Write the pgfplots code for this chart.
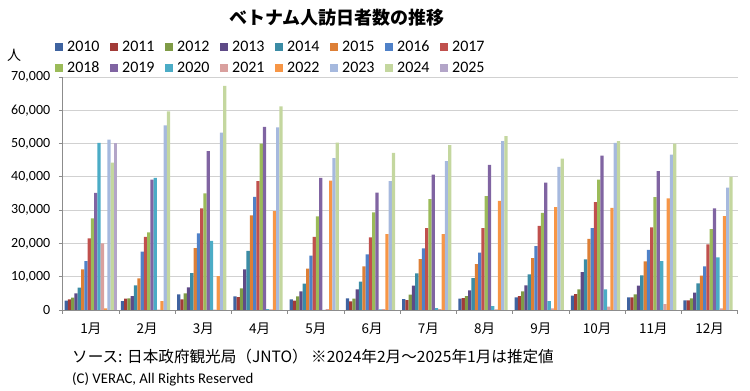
\documentclass[border=0pt]{standalone}
\usepackage{pgfplots}
\pgfplotsset{compat=1.18}
\usepackage{pgfplotstable}
\usepackage{fontspec}
\setmainfont{Carlito}
\newfontfamily\jp{Noto Sans CJK JP}

\definecolor{c2010}{HTML}{3F63A0}
\definecolor{c2011}{HTML}{A23B38}
\definecolor{c2012}{HTML}{7F9B46}
\definecolor{c2013}{HTML}{5E4A87}
\definecolor{c2014}{HTML}{3B8CA5}
\definecolor{c2015}{HTML}{DD7F36}
\definecolor{c2016}{HTML}{4F81C8}
\definecolor{c2017}{HTML}{C0504D}
\definecolor{c2018}{HTML}{9BBB59}
\definecolor{c2019}{HTML}{8064A2}
\definecolor{c2020}{HTML}{4BACC6}
\definecolor{c2021}{HTML}{D9A09E}
\definecolor{c2022}{HTML}{F79646}
\definecolor{c2023}{HTML}{A6B9DE}
\definecolor{c2024}{HTML}{C4D79F}
\definecolor{c2025}{HTML}{B3A5C8}

\pgfplotstableread{
m y2010 y2011 y2012 y2013 y2014 y2015 y2016 y2017 y2018 y2019 y2020 y2021 y2022 y2023 y2024
0  2800 3200 3700  5000  6700 12200 14700 21500 27500 35200 50200 20000   500 51200 44300
1  2700 3400 3500  4200  7400  9500 17500 22000 23300 39200 39700   100  2700 55500 59700
2  4700 3200 5000  6800 11100 18600 23000 30500 35000 47700 20800   100 10200 53300 67300
3  4100 3900 6500 12200 17800 28400 34000 38700 50000 55000   300   200 29700 54900 61200
4  3200 2800 4100  5600  7900 12400 16300 22000 28100 39700     0   300 38900 45600 50300
5  3500 2600 3400  6200  8500 13100 16700 21800 29300 35300   200   300 22800 38700 47200
6  3300 3000 4600  7300 11000 15300 18500 24600 33300 40700   600   300 22800 44700 49500
7  3400 3600 4200  5900  9600 13800 17200 24600 34200 43600  1200   200 32800 50700 52200
8  3800 4200 5600  7400 10700 15600 19200 25300 29200 38300  2700   500 30900 43000 45500
9  4300 4800 6200 11400 15200 21400 24600 32400 39200 46400  6200  1000 30700 50200 50700
10 3800 3800 4700  7300 10400 14600 18100 24800 33900 41700 14700  1800 33500 46700 50000
11 2900 2900 3500  5200  8000 10300 13100 19700 24300 30500 15800   500 28200 36800 40000
}\data

\begin{document}
\begin{tikzpicture}[x=1pt,y=1pt]
\useasboundingbox (0,0) rectangle (750,391);
\begin{axis}[
  at={(62.75pt,81pt)}, anchor=south west,
  scale only axis, width=675pt, height=233pt,
  ybar=0pt, bar width=3.29pt,
  xmin=-0.5, xmax=11.5, ymin=0, ymax=70000,
  axis x line*=bottom, axis y line*=left,
  axis line style={draw=black!45, line width=0.8pt},
  tick align=outside,
  xtick={0,...,11},
  xticklabels={1月,2月,3月,4月,5月,6月,7月,8月,9月,10月,11月,12月},
  xticklabel style={font=\jp\fontsize{13.5}{14}\selectfont, yshift=-5pt},
  major x tick style={draw=none},
  minor xtick={-0.5,0.5,...,11.5},
  minor tick length=4pt,
  minor x tick style={draw=black!45, line width=0.8pt},
  ytick={0,10000,...,70000},
  major tick length=4pt,
  major y tick style={draw=black!45, line width=0.8pt},
  scaled y ticks=false,
  yticklabel style={font=\fontsize{14}{14}\selectfont,
    /pgf/number format/assume math mode=true,
    /pgf/number format/fixed,
    /pgf/number format/1000 sep={,}, xshift=-5pt},
  ymajorgrids, grid style={draw=black!18, line width=0.8pt},
  legend columns=8,
  legend image code/.code={\fill[#1] (0pt,-4pt) rectangle (8pt,4pt);},
  legend style={at={(-0.016,1.165)}, anchor=north west, draw=none, fill=none,
    font=\fontsize{16}{16}\selectfont, column sep=4pt, row sep=8pt,
    nodes={inner sep=0pt, text height=11pt, text depth=2pt}},
  legend cell align=left,
]
\addplot[fill=c2010,draw=none] table[x=m,y=y2010]{\data};
\addplot[fill=c2011,draw=none] table[x=m,y=y2011]{\data};
\addplot[fill=c2012,draw=none] table[x=m,y=y2012]{\data};
\addplot[fill=c2013,draw=none] table[x=m,y=y2013]{\data};
\addplot[fill=c2014,draw=none] table[x=m,y=y2014]{\data};
\addplot[fill=c2015,draw=none] table[x=m,y=y2015]{\data};
\addplot[fill=c2016,draw=none] table[x=m,y=y2016]{\data};
\addplot[fill=c2017,draw=none] table[x=m,y=y2017]{\data};
\addplot[fill=c2018,draw=none] table[x=m,y=y2018]{\data};
\addplot[fill=c2019,draw=none] table[x=m,y=y2019]{\data};
\addplot[fill=c2020,draw=none] table[x=m,y=y2020]{\data};
\addplot[fill=c2021,draw=none] table[x=m,y=y2021]{\data};
\addplot[fill=c2022,draw=none] table[x=m,y=y2022]{\data};
\addplot[fill=c2023,draw=none] table[x=m,y=y2023]{\data};
\addplot[fill=c2024,draw=none] table[x=m,y=y2024]{\data};
\addplot[fill=c2025,draw=none] coordinates {(0,50200)};
\legend{\makebox[39pt][l]{2010},\makebox[39pt][l]{2011},\makebox[39pt][l]{2012},\makebox[39pt][l]{2013},
\makebox[39pt][l]{2014},\makebox[39pt][l]{2015},\makebox[39pt][l]{2016},\makebox[39pt][l]{2017},
\makebox[39pt][l]{2018},\makebox[39pt][l]{2019},\makebox[39pt][l]{2020},\makebox[39pt][l]{2021},
\makebox[39pt][l]{2022},\makebox[39pt][l]{2023},\makebox[39pt][l]{2024},\makebox[39pt][l]{2025}}
\end{axis}
\node[font=\jp\bfseries\fontsize{18}{18}\selectfont] at (337,373) {ベトナム人訪日者数の推移};
\node[font=\jp\fontsize{14}{14}\selectfont] at (14,336) {人};
\node[anchor=west, font=\jp\fontsize{15.6}{16}\selectfont, inner sep=0pt] at (72,34) {ソース: 日本政府観光局（JNTO）\ ※2024年2月～2025年1月は推定値};
\node[anchor=west, font=\fontsize{14.8}{15}\selectfont, inner sep=0pt] at (72,12) {(C) VERAC, All Rights Reserved};
\end{tikzpicture}
\end{document}
